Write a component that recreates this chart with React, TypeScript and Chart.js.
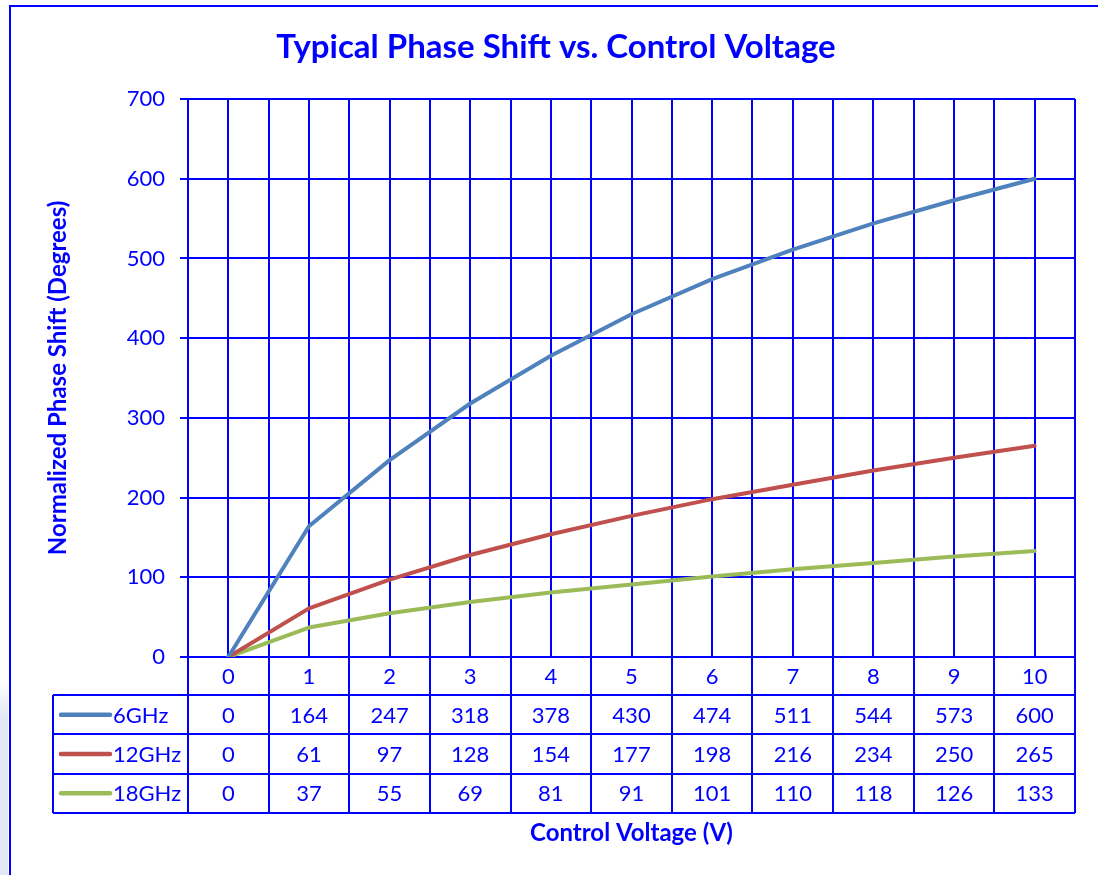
import React, { useEffect, useRef } from "react";
import { Chart, registerables } from "chart.js";

Chart.register(...registerables);

const voltages = [0, 1, 2, 3, 4, 5, 6, 7, 8, 9, 10];
const seriesNames = ["6GHz", "12GHz", "18GHz"];
const ghz6 = [0, 164, 247, 318, 378, 430, 474, 511, 544, 573, 600];
const ghz12 = [0, 61, 97, 128, 154, 177, 198, 216, 234, 250, 265];
const ghz18 = [0, 37, 55, 69, 81, 91, 101, 110, 118, 126, 133];
const seriesColors = ["#4F81BD", "#C0504D", "#9BBB59"];
const yMin = 0;
const yMax = 700;
const yStep = 100;
const chartTitle = "Typical Phase Shift vs. Control Voltage";
const yTitle = "Normalized Phase Shift (Degrees)";
const xTitle = "Control Voltage (V)";

const BLUE = "#0000FF";
const FONT = "Lato, 'Open Sans', sans-serif";

const seriesValues = [ghz6, ghz12, ghz18];

const framePlugin = {
  id: "frame",
  beforeDraw(chart: any) {
    const ctx = chart.ctx;
    ctx.save();
    ctx.fillStyle = "#ffffff";
    ctx.fillRect(0, 0, chart.width, chart.height);
    const g = ctx.createLinearGradient(0, 680, 0, 875);
    g.addColorStop(0, "rgba(225,232,243,0)");
    g.addColorStop(0.2, "rgba(225,232,243,1)");
    g.addColorStop(1, "rgba(225,232,243,1)");
    ctx.fillStyle = g;
    ctx.fillRect(0, 680, 8, 195);
    ctx.strokeStyle = BLUE;
    ctx.lineWidth = 2;
    ctx.strokeRect(10, 6, 1200, 1000);
    ctx.fillStyle = BLUE;
    ctx.font = `bold 33px ${FONT}`;
    ctx.textAlign = "center";
    ctx.textBaseline = "middle";
    ctx.fillText(chartTitle, 556, 47);
    ctx.restore();
  },
};

const tablePlugin = {
  id: "dataTable",
  afterDraw(chart: any) {
    const ctx = chart.ctx;
    const xs = chart.scales.x;
    const area = chart.chartArea;
    const tableLeft = 53;
    const labelRowH = 38;
    const rowH = 39.3;
    const top = area.bottom;
    const rowsTop = top + labelRowH;
    const right = xs.getPixelForValue(voltages[voltages.length - 1] + 0.5);
    const bottom = rowsTop + rowH * seriesNames.length;
    ctx.save();
    ctx.strokeStyle = BLUE;
    ctx.lineWidth = 2;
    ctx.beginPath();
    for (let r = 0; r <= seriesNames.length; r++) {
      const y = Math.round(rowsTop + r * rowH);
      ctx.moveTo(tableLeft, y);
      ctx.lineTo(right, y);
    }
    ctx.moveTo(tableLeft, rowsTop);
    ctx.lineTo(tableLeft, bottom);
    for (let i = 0; i <= voltages.length; i++) {
      const x = Math.round(xs.getPixelForValue(voltages[0] - 0.5 + i));
      ctx.moveTo(x, top);
      ctx.lineTo(x, bottom);
    }
    ctx.stroke();

    ctx.font = `22px ${FONT}`;
    ctx.fillStyle = BLUE;
    ctx.textBaseline = "middle";
    for (let r = 0; r < seriesNames.length; r++) {
      const cy = rowsTop + r * rowH + rowH / 2;
      ctx.textAlign = "center";
      seriesValues[r].forEach((v, i) => {
        ctx.fillText(String(v), xs.getPixelForValue(voltages[i]), cy + 1);
      });
      ctx.save();
      ctx.strokeStyle = seriesColors[r];
      ctx.lineWidth = 4.5;
      ctx.lineCap = "round";
      ctx.beginPath();
      ctx.moveTo(61, cy);
      ctx.lineTo(110, cy);
      ctx.stroke();
      ctx.restore();
      ctx.textAlign = "left";
      ctx.fillText(seriesNames[r], 113, cy + 1);
    }
    ctx.restore();
  },
};

export default function App() {
  const ref = useRef<HTMLCanvasElement | null>(null);
  useEffect(() => {
    if (!ref.current) return;
    const chart = new Chart(ref.current, {
      type: "line",
      data: {
        datasets: seriesNames.map((name, s) => ({
          label: name,
          data: voltages.map((v, i) => ({ x: v, y: seriesValues[s][i] })),
          borderColor: seriesColors[s],
          backgroundColor: seriesColors[s],
          borderWidth: 4,
          pointRadius: 0,
          tension: 0,
          borderCapStyle: "round",
          borderJoinStyle: "round",
        })),
      },
      options: {
        responsive: false,
        animation: false,
        layout: { padding: { left: 0, top: 99, right: 23, bottom: 0 } },
        plugins: {
          legend: { display: false },
          title: { display: false },
          tooltip: { enabled: false },
        },
        scales: {
          x: {
            type: "linear",
            min: voltages[0] - 0.5,
            max: voltages[voltages.length - 1] + 0.5,
            afterFit(s: any) {
              s.height = 218;
            },
            ticks: {
              stepSize: 0.5,
              maxTicksLimit: 100,
              autoSkip: false,
              maxRotation: 0,
              padding: 7,
              color: BLUE,
              font: { family: FONT, size: 22 },
              callback: (v: any) => {
                const n = Number(v);
                return Math.abs(n - Math.round(n)) < 1e-6 ? String(Math.round(n)) : "";
              },
            },
            grid: { color: BLUE, lineWidth: 2, drawTicks: false },
            border: { color: BLUE, width: 2 },
            title: {
              display: true,
              text: xTitle,
              color: BLUE,
              font: { family: FONT, size: 24, weight: "bold" },
              padding: { top: 0, bottom: 27 },
            },
          },
          y: {
            min: yMin,
            max: yMax,
            afterFit(s: any) {
              s.width = 188;
            },
            ticks: {
              stepSize: yStep,
              padding: 15,
              color: BLUE,
              font: { family: FONT, size: 22 },
            },
            grid: { color: BLUE, lineWidth: 2, tickLength: 8 },
            border: { color: BLUE, width: 2 },
            title: {
              display: true,
              text: yTitle,
              color: BLUE,
              font: { family: FONT, size: 24, weight: "bold" },
              padding: { top: 44, bottom: 0 },
            },
          },
        },
      },
      plugins: [framePlugin, tablePlugin],
    });
    return () => chart.destroy();
  }, []);
  return (
    <div style={{ position: "absolute", left: 0, top: 0, width: 1098, height: 875 }}>
      <canvas ref={ref} width={1098} height={875} style={{ display: "block" }} />
    </div>
  );
}
